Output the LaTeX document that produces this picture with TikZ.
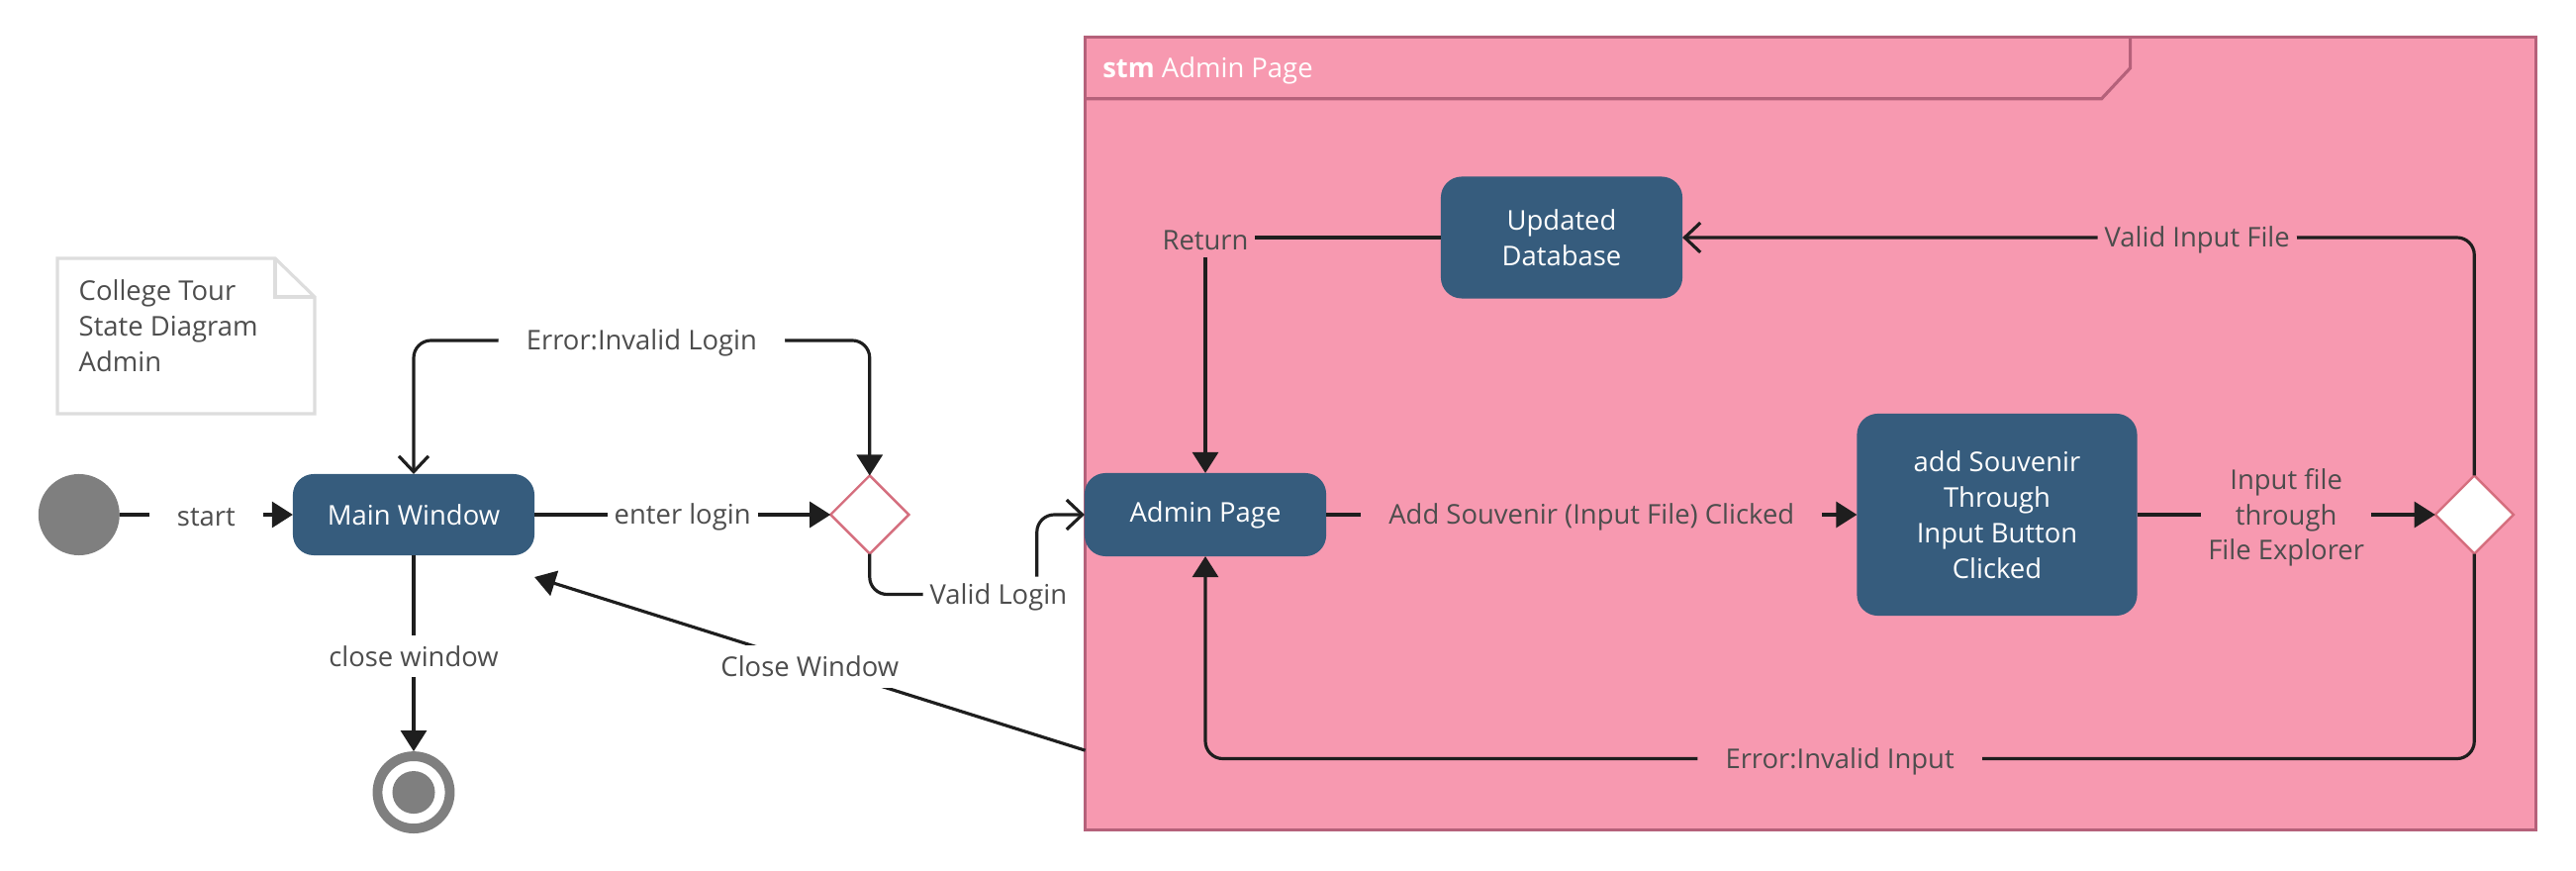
\documentclass[tikz,border=0pt]{standalone}
\usepackage{fontspec}
\setmainfont{Open Sans}
\usepackage{tikz}
\usetikzlibrary{positioning,shapes.geometric,arrows.meta,calc}
\definecolor{sblue}{HTML}{365C7D}
\definecolor{spink}{HTML}{F799B0}
\definecolor{sframe}{HTML}{B5617A}
\definecolor{sdiam}{HTML}{D56E7E}
\definecolor{sgray}{HTML}{7F7F7F}
\definecolor{stext}{HTML}{4D4D4D}
\definecolor{sline}{HTML}{1E1E1E}
\definecolor{snote}{HTML}{DDDDDD}
\newcommand\dfont{\fontsize{7.8}{10.2}\selectfont}

\begin{document}
\begin{tikzpicture}[x=0.01cm, y=-0.01cm,
  blk/.style={rectangle, rounded corners=6pt, fill=sblue, text=white, align=center,
    font=\dfont, inner sep=2pt, outer sep=0pt, minimum width=2.44cm, minimum height=0.82cm},
  dec/.style={diamond, draw=sdiam, fill=white, line width=0.7pt, inner sep=0pt,
    outer sep=0pt, minimum size=0.79cm},
  lbl/.style={font=\dfont, text=stext, fill=white, inner sep=2pt, align=center, yshift=-0.8pt},
  plbl/.style={lbl, fill=spink},
  arr/.style={-{Triangle[length=6pt, width=7.4pt]}, line width=0.9pt, draw=sline},
  barb/.style={-{Straight Barb[length=4.5pt, width=8.5pt]}, line width=0.9pt, draw=sline},
  both/.style={{Straight Barb[length=4.5pt, width=8.5pt]}-{Triangle[length=6pt, width=7.4pt]},
    line width=0.9pt, draw=sline}
]
\useasboundingbox (0,0) rectangle (2603,880);

\node[rectangle, draw=sframe, fill=spink, line width=0.9pt, outer sep=0pt,
  minimum width=14.65cm, minimum height=8cm] (frame) at (1829.5,438) {};
\draw[sframe, line width=0.9pt] ($(frame.north west)+(0,62)$) -- ++(1027,0) -- ++(29,-31) -- ++(0,-31);
\node[font=\dfont, text=white, anchor=west, inner sep=0pt] (ftitle)
  at ($(frame.north west)+(17,34)$) {\textbf{stm} Admin Page};

\draw[snote, line width=0.9pt, fill=white] (58,261) -- (278,261) -- (318,300) -- (318,418) -- (58,418) -- cycle;
\draw[snote, line width=0.9pt] (278,261) |- (318,300);
\node[font=\dfont, text=stext, align=left, anchor=north west, inner sep=0pt] (note)
  at (79,282) {College Tour\\State Diagram\\Admin};

\node[blk] (mainw) at (418,520) {Main Window};
\node[circle, fill=sgray, minimum size=0.82cm, inner sep=0pt, outer sep=0pt, left=1.75cm of mainw] (init) {};
\node[circle, draw=sgray, line width=2.8pt, fill=white, minimum size=0.73cm, inner sep=0pt,
  below=1.98cm of mainw,
  path picture={\fill[sgray] (path picture bounding box.center) circle (0.215cm);}] (fin) {};
\node[dec, right=2.99cm of mainw] (dec1) {};

\node[blk, minimum height=0.84cm] (adminp) at (1218,520) {Admin Page};
\node[blk, minimum height=1.23cm] (udb) at (1578,240) {Updated\\Database};
\node[blk, minimum width=2.83cm, minimum height=2.04cm, right=5.36cm of adminp] (addsv)
  {add Souvenir\\Through\\Input Button\\Clicked};
\node[dec, right=3.01cm of addsv] (dec2) {};

\draw[arr] (init) -- node[lbl, inner xsep=8pt] {start} (mainw);
\draw[arr] (mainw) -- node[lbl] {enter login} (dec1);
\draw[both, rounded corners=5pt] (mainw.north) -- ++(0,-135) -| node[lbl, pos=0.25, inner xsep=8pt] {Error:Invalid Login} (dec1.north);
\draw[arr] (mainw.south) -- node[lbl, inner ysep=3pt] {close window} (fin.north);
\draw[barb, rounded corners=5pt] (dec1.south) |- node[lbl, pos=0.885] {Valid Login} ++(169,41) |- (adminp.west);
\draw[arr] ($(frame.south west)!0.1!(frame.north west)$) -- node[lbl, inner ysep=3pt] {Close Window} ($(mainw.south east)+(0,22)$);

\draw[arr] (udb.west) -| node[plbl] {Return} (adminp.north);
\draw[barb, rounded corners=5pt] (dec2.north) |- node[plbl, pos=0.675] {Valid Input File} (udb.east);
\draw[arr] (adminp) -- node[plbl, inner xsep=8pt] {Add Souvenir (Input File) Clicked} (addsv);
\draw[arr] (addsv) -- node[plbl] {Input file\\through\\File Explorer} (dec2);
\draw[arr, rounded corners=5pt] (dec2.south) -- ++(0,207) -| node[plbl, pos=0.25, inner xsep=8pt] {Error:Invalid Input} (adminp.south);
\end{tikzpicture}
\end{document}
